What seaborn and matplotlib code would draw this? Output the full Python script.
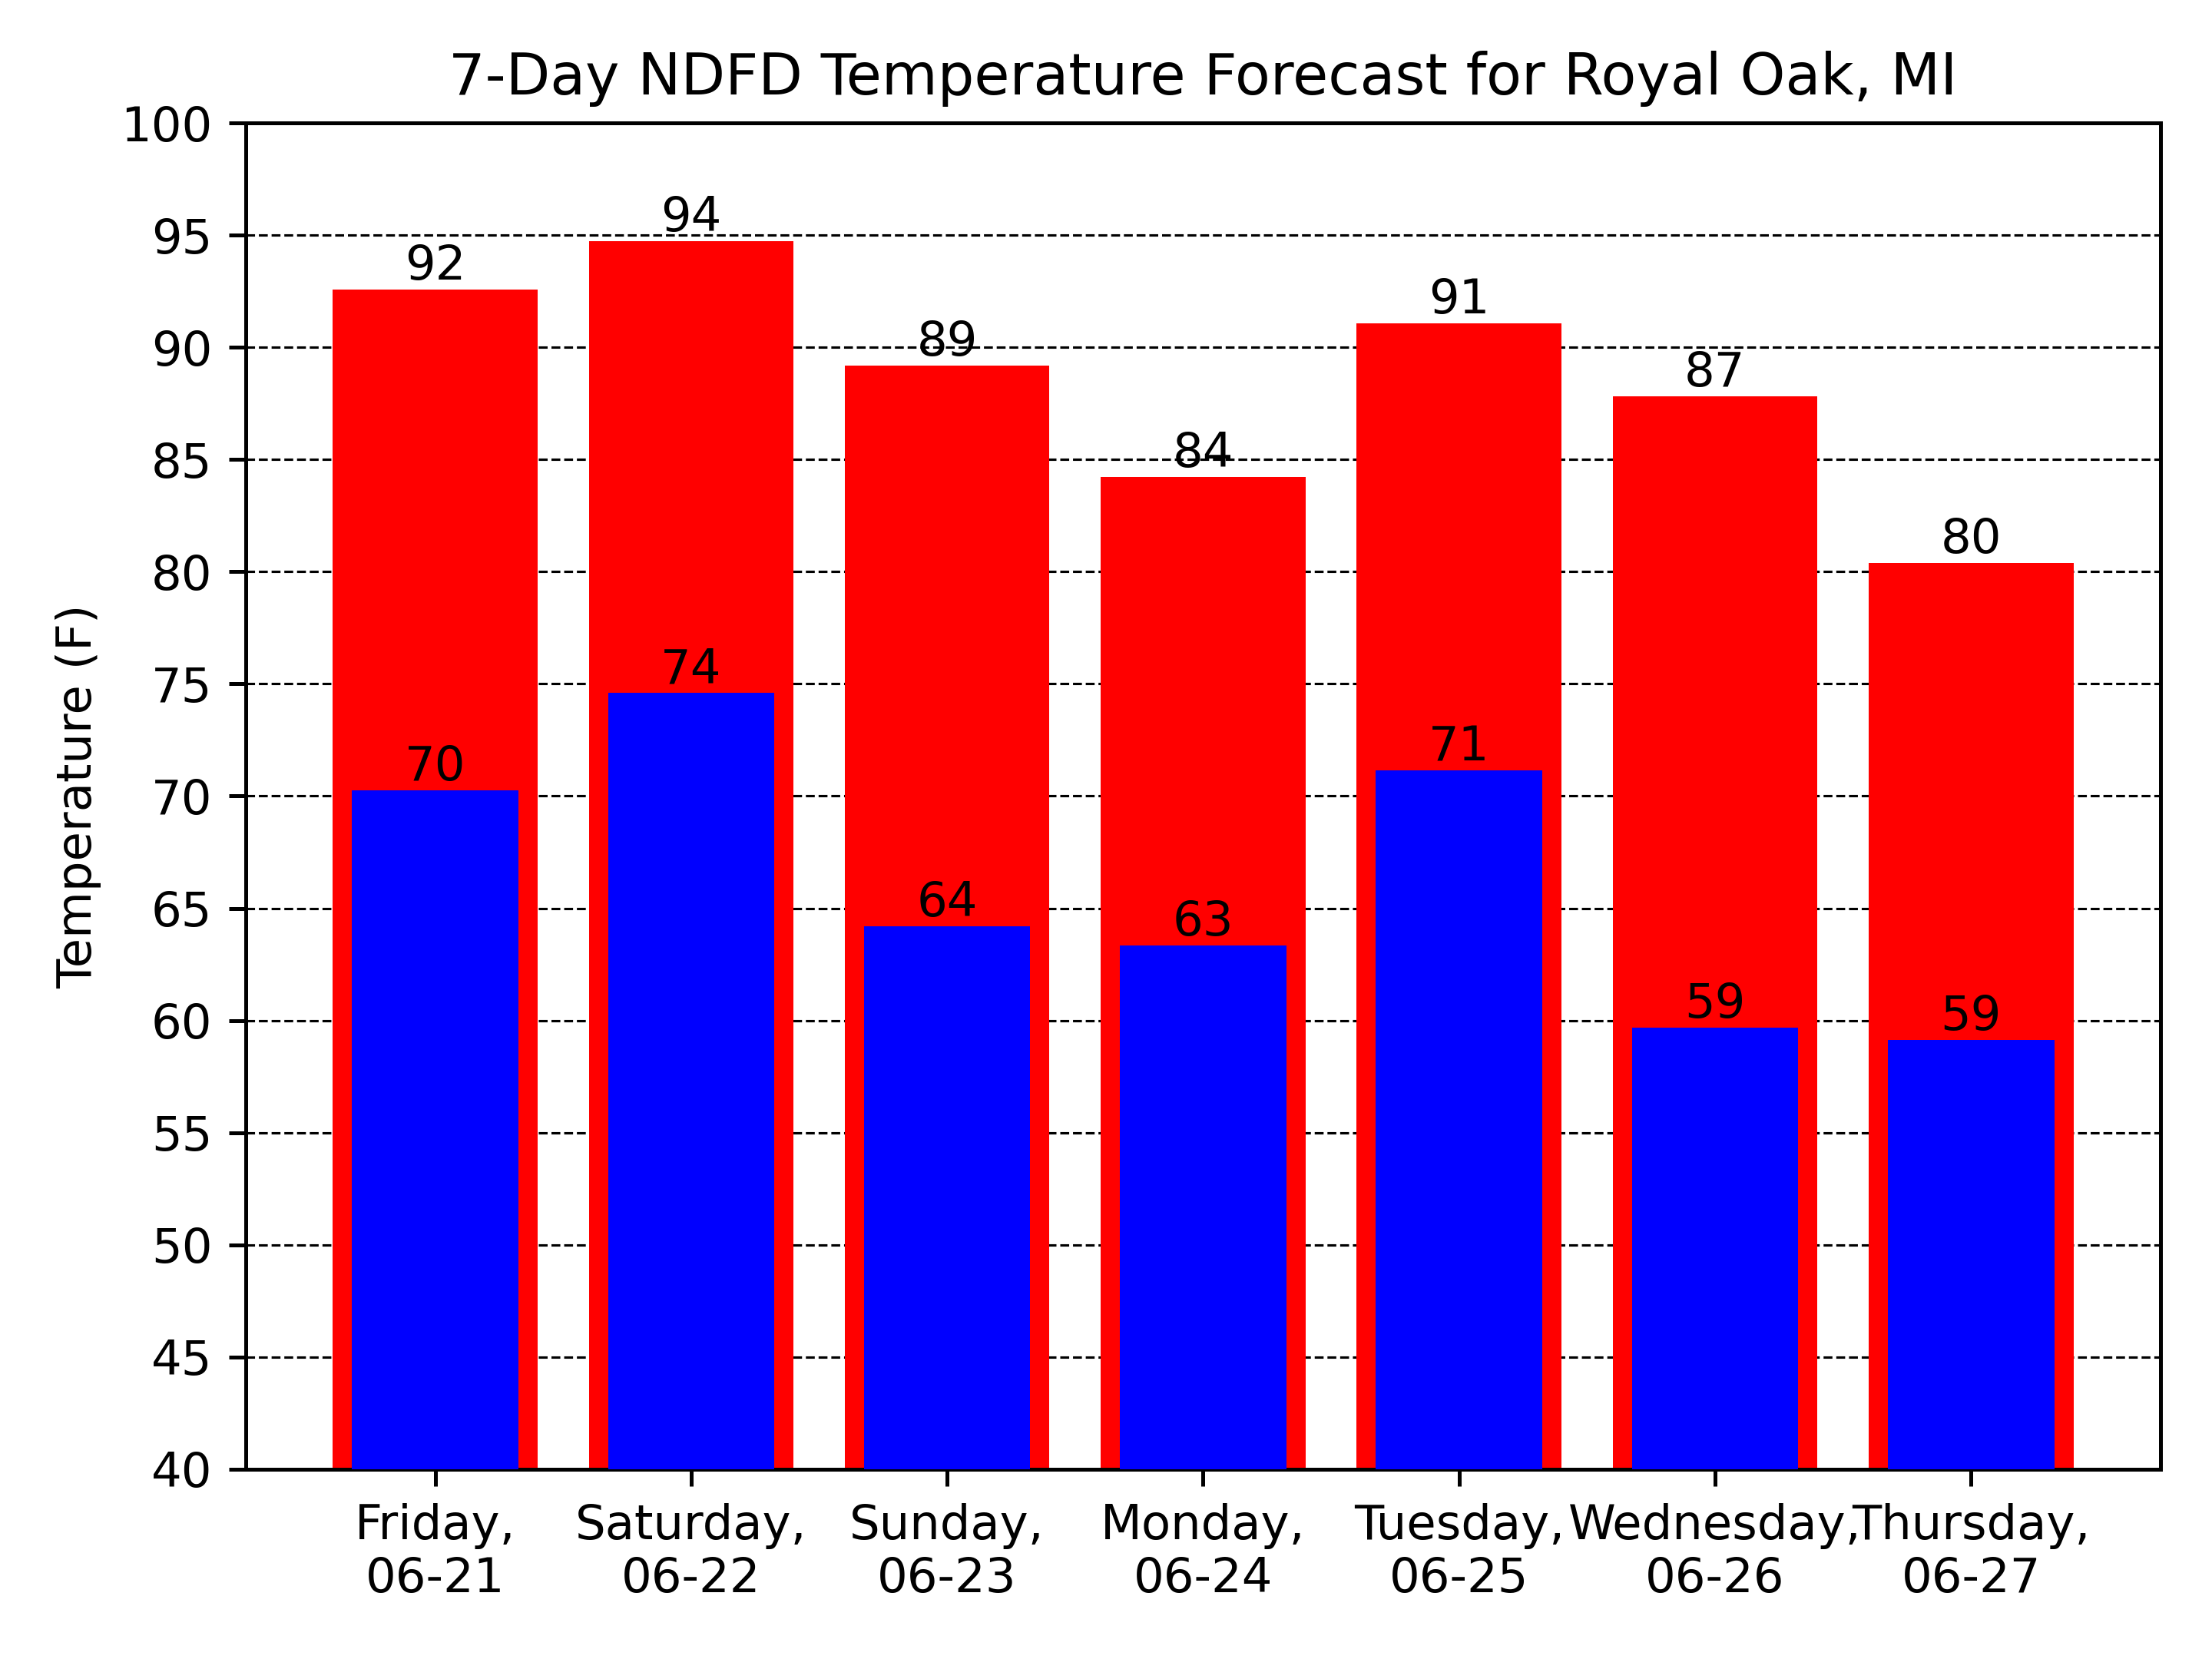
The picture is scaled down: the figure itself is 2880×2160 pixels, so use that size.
import pandas as pd
import matplotlib
matplotlib.use('Agg')
import matplotlib.pyplot as plt
import seaborn as sns

# forecast values
days = ['Friday,\n06-21', 'Saturday,\n06-22', 'Sunday,\n06-23', 'Monday,\n06-24',
        'Tuesday,\n06-25', 'Wednesday,\n06-26', 'Thursday,\n06-27']
highs = [92.58, 94.72, 89.18, 84.21, 91.07, 87.80, 80.38]
lows = [70.25, 74.59, 64.21, 63.33, 71.13, 59.69, 59.12]

df = pd.DataFrame({'day': days, 'high': highs, 'low': lows})

sns.set_style('ticks')
plt.rcParams['font.family'] = ['DejaVu Sans']
plt.rcParams['text.color'] = 'black'
plt.rcParams['axes.labelcolor'] = 'black'
plt.rcParams['xtick.color'] = 'black'
plt.rcParams['ytick.color'] = 'black'

fig, ax = plt.subplots(figsize=(6.4, 4.8), dpi=450)

# highs behind, lows in front
sns.barplot(data=df, x='day', y='high', color='red', saturation=1, width=0.8,
            linewidth=0, ax=ax, zorder=2)
sns.barplot(data=df, x='day', y='low', color='blue', saturation=1, width=0.65,
            linewidth=0, ax=ax, zorder=3)

for i, (h, l) in enumerate(zip(highs, lows)):
    ax.text(i, h, str(int(h)), ha='center', va='bottom', fontsize=10,
            color='black', zorder=4)
    ax.text(i, l, str(int(l)), ha='center', va='bottom', fontsize=10,
            color='black', zorder=4)

ax.set_ylim(40, 100)
ax.set_yticks(range(40, 101, 5))
ax.set_xlim(-0.74, 6.74)
ax.yaxis.grid(True, linestyle='--', color='black', linewidth=0.5, zorder=0)
ax.xaxis.grid(False)
ax.set_axisbelow(True)
for s in ax.spines.values():
    s.set_visible(True)
    s.set_linewidth(0.8)
    s.set_color('black')
ax.tick_params(colors='black', labelsize=10)

ax.set_title('7-Day NDFD Temperature Forecast for Royal Oak, MI', fontsize=12,
             color='black')
ax.set_xlabel('')
ax.set_ylabel('Temperature (F)', fontsize=10, color='black')

fig.subplots_adjust(left=0.1111, right=0.9767, top=0.9259, bottom=0.1144)
plt.savefig('out.png', dpi=450)
